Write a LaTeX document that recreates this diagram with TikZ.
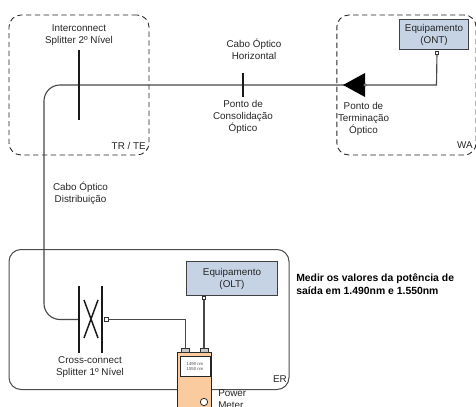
\documentclass[tikz,border=0pt]{standalone}
\usepackage{fontspec}
\setmainfont{Liberation Sans}
\definecolor{eqblue}{RGB}{197,211,229}
\definecolor{peach}{RGB}{251,203,160}
\tikzset{
  x=0.75pt,y=-0.75pt,
  lbl/.style={font=\fontsize{7.4pt}{9pt}\selectfont,text=black!85,align=center,inner sep=0pt},
  zone/.style={draw=black!85,line width=0.65pt,rounded corners=9pt,dash pattern=on 4pt off 2.6pt},
  room/.style={draw=black!70,line width=0.75pt,rounded corners=9pt},
  equip/.style={draw=black!75,fill=eqblue,line width=0.9pt,inner sep=0pt,align=center,font=\fontsize{7.4pt}{9pt}\selectfont,text=black!85},
  fibre/.style={draw=black!72,line width=0.85pt},
  bar/.style={draw=black!90,line width=1.1pt},
  port/.style={draw=black!80,fill=white,line width=0.45pt,inner sep=0pt,minimum size=2.2pt,rectangle},
  plug/.style={draw=black!80,fill=black!22,line width=0.5pt,minimum width=6pt,minimum height=3pt,inner sep=0pt},
}
\begin{document}
\begin{tikzpicture}
\useasboundingbox (0,0) rectangle (476,407);
\clip (0,0) rectangle (476,407);
% zones
\node[zone,minimum width=105pt,minimum height=105pt,inner sep=0pt] (tr) at (79,85) {};
\node[zone,minimum width=104.5pt,minimum height=105pt,inner sep=0pt] (wa) at (406.5,85) {};
\node[room,minimum width=210pt,minimum height=105pt,inner sep=0pt] (er) at (149,319.5) {};
\node[lbl,anchor=east] (trl) at (146,145.5) {TR / TE};
\node[lbl,anchor=east] (wal) at (473,145.5) {WA};
\node[lbl,anchor=east] (erl) at (287,379.5) {ER};
% equipment
\node[equip,minimum width=52pt,minimum height=23pt] (ont) at (434,34.5) {Equipamento\\(ONT)};
\node[equip,minimum width=68.5pt,minimum height=26pt] (olt) at (232,278.5) {Equipamento\\(OLT)};
% ports
\node[port] (ontp) at (437,52.5) {};
\node[port] (oltp) at (204,298) {};
\node[port,minimum size=2.8pt] (cp) at (106,319.5) {};
% splitters
\coordinate (s2a) at (79,50); \coordinate (s2b) at (79,120);
\coordinate (pca) at (243,73); \coordinate (pcb) at (243,97);
\coordinate (s1at) at (79,286); \coordinate (s1ab) at (79,353);
\coordinate (s1bt) at (102,286); \coordinate (s1bb) at (102,353);
\coordinate (x1) at (84,300); \coordinate (x2) at (98,338);
\coordinate (x3) at (98,300); \coordinate (x4) at (84,338);
\coordinate (s1in) at (79,319.5);
\coordinate (tip) at (343,85);
\coordinate (tb1) at (365,73); \coordinate (tb2) at (365,97);
\coordinate (tc) at (365,85);
% power meter
\node[draw=black!85,fill=peach,line width=0.8pt,minimum width=26pt,minimum height=60pt,inner sep=0pt,anchor=north] (pm) at (194.5,352) {};
\node[draw=black!85,fill=white,line width=0.6pt,minimum width=22.5pt,minimum height=15pt,inner sep=0pt,align=center,font=\fontsize{3.2pt}{4.2pt}\selectfont,text=black!70] (disp) at (195,366.5) {1490 nm\\1550 nm};
\node[circle,draw=black!85,fill=white,line width=0.6pt,minimum size=5.5pt,inner sep=0pt] (knob) at (204,402) {};
\node[plug] (pa) at (185.5,350) {};
\node[plug] (pb) at (204,350) {};
% fibres
\draw[fibre,rounded corners=12pt] (tc) -- (44,85) -- (44,319.5) -- (s1in);
\draw[fibre] (tc) -- (436.5,85) -- (ontp);
\draw[fibre] (cp) -- (185.5,319.5) -- (pa);
\draw[fibre] (oltp) -- (pb);
% bars
\draw[bar] (s2a) -- (s2b);
\draw[bar,line width=1.2pt] (pca) -- (pcb);
\draw[bar] (s1at) -- (s1ab);
\draw[bar] (s1bt) -- (s1bb);
\draw[bar] (x1) -- (x2);
\draw[bar] (x3) -- (x4);
\fill[black] (tip) -- (tb1) -- (tb2) -- cycle;
\node[circle,draw=black!70,fill=black!30,line width=0.3pt,minimum size=2.2pt,inner sep=0pt] (tp) at (tc) {};
% labels
\node[lbl] (l1) at (79,35) {Interconnect\\Splitter 2º Nível};
\node[lbl] (l2) at (254,49) {Cabo Óptico\\Horizontal};
\node[lbl] (l3) at (243,117) {Ponto de\\Consolidação\\Óptico};
\node[lbl] (l4) at (363.5,118.5) {Ponto de\\Terminação\\Óptico};
\node[lbl] (l5) at (80.5,193.5) {Cabo Óptico\\Distribuição};
\node[lbl] (l6) at (90,367) {Cross-connect\\Splitter 1º Nível};
\node[lbl,anchor=north west,align=left] (l7) at (218,389) {Power\\Meter};
\node[anchor=west,align=left,inner sep=0pt,font=\bfseries\fontsize{7.8pt}{9.6pt}\selectfont] (l8) at (296,284.5) {Medir os valores da potência de\\saída em 1.490nm e 1.550nm};
\end{tikzpicture}
\end{document}
